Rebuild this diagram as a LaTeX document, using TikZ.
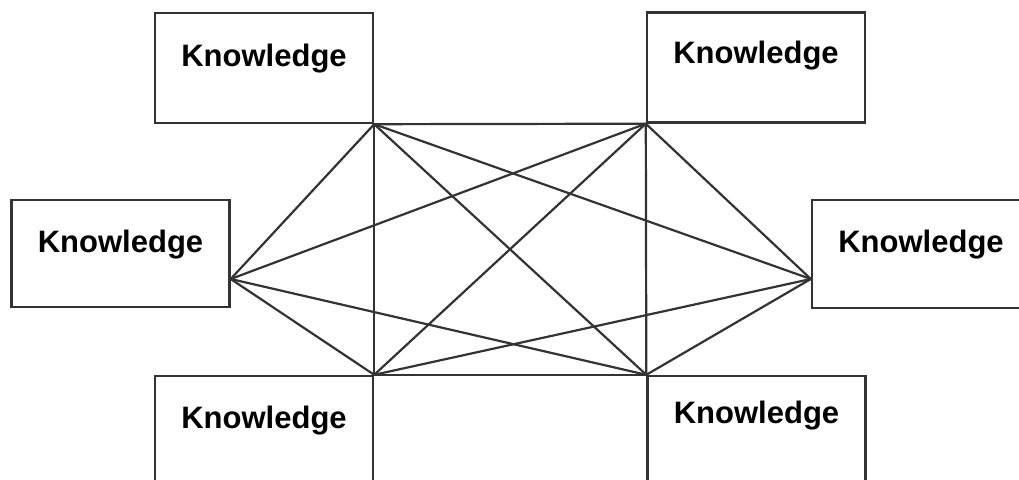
\documentclass[tikz,border=0pt]{standalone}
\usepackage{fontspec}
\setmainfont{Liberation Sans}
\usetikzlibrary{positioning, calc}
\definecolor{LineGray}{rgb}{0.2, 0.2, 0.2}

\tikzset{
  box/.style={draw=LineGray, line width=2.4pt, minimum width=218pt, minimum height=110pt, inner sep=0pt},
  kn/.style={anchor=base, font=\bfseries\fontsize{31}{36}\selectfont},
  link/.style={draw=LineGray, line width=2.2pt}
}

\begin{document}
\begin{tikzpicture}[x=1pt, y=1pt]
        % page frame
        \useasboundingbox[fill=white] (0,0) rectangle (1019,-479);

        % Knowledge boxes
        \node[box] (tl) at (264,-68) {};
        \node[box] (tr) at (756,-67.5) {};
        \node[box, minimum height=107pt] (l) at (120.5,-253.5) {};
        \node[box, minimum height=108pt] (r) at (921,-254) {};
        \node[box] (bl) at (264,-431) {};
        \node[box] (br) at (756.5,-431) {};

        % Labels
        \node[kn] (tltext) at ([yshift=-55pt]tl.north) {Knowledge};
        \node[kn] (trtext) at ([yshift=-52pt]tr.north) {Knowledge};
        \node[kn] (ltext) at ([yshift=-54pt]l.north) {Knowledge};
        \node[kn] (rtext) at ([yshift=-54pt]r.north) {Knowledge};
        \node[kn] (bltext) at ([yshift=-54pt]bl.north) {Knowledge};
        \node[kn] (brtext) at ([yshift=-49pt]br.north) {Knowledge};

        % Meeting points on the side boxes
        \coordinate (lc) at ([yshift=-25.5pt]l.east);
        \coordinate (rc) at ([yshift=-25pt]r.west);

        % Links
        \draw[link] (tl.south east) -- (tr.south west);
        \draw[link] (tl.south east) -- (lc);
        \draw[link] (tl.south east) -- (rc);
        \draw[link] (tl.south east) -- (bl.north east);
        \draw[link] (tl.south east) -- (br.north west);
        \draw[link] (tr.south west) -- (lc);
        \draw[link] (tr.south west) -- (rc);
        \draw[link] (tr.south west) -- (bl.north east);
        \draw[link] (tr.south west) -- (br.north west);
        \draw[link] (lc) -- (bl.north east);
        \draw[link] (lc) -- (br.north west);
        \draw[link] (rc) -- (bl.north east);
        \draw[link] (rc) -- (br.north west);
        \draw[link] (bl.north east) -- (br.north west);
\end{tikzpicture}
\end{document}
